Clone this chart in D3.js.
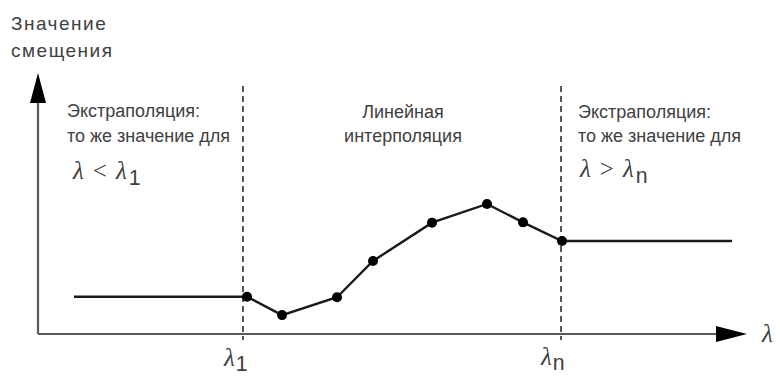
<!DOCTYPE html>
<html><head><meta charset="utf-8">
<script src="https://cdn.jsdelivr.net/npm/d3@7"></script>
<style>body{margin:0;background:#fff}svg{display:block}</style>
</head><body>
<script>
// Data (arbitrary units): interpolation nodes lambda_1 ... lambda_n
const nodeX = [209, 244, 299, 335, 394, 449, 485, 524];
const nodeY = [14.4, 7.3, 14.2, 28.2, 43.0, 50.2, 43.1, 35.9];
const extrapLeftX = 36;    // start of left constant extrapolation
const extrapRightX = 694;  // end of right constant extrapolation
const dashX = [205, 523];  // lambda_1 and lambda_n positions
const yAxisTitle = ["Значение", "смещения"];
const leftText = ["Экстраполяция:", "то же значение для"];
const midText = ["Линейная", "интерполяция"];
const rightText = ["Экстраполяция:", "то же значение для"];

const W = 780, H = 379;
const x = d3.scaleLinear().domain([0, 700]).range([38, 738]);
const y = d3.scaleLinear().domain([0, 100]).range([334, 75]);

const svg = d3.select("body").append("svg").attr("width", W).attr("height", H);

const axisColor = "#5a5a5a";
// axes
svg.append("line").attr("x1", x(0)).attr("x2", x(680)).attr("y1", y(0)).attr("y2", y(0))
  .attr("stroke", axisColor).attr("stroke-width", 2.2);
svg.append("line").attr("x1", x(0)).attr("x2", x(0)).attr("y1", y(0)).attr("y2", y(90))
  .attr("stroke", axisColor).attr("stroke-width", 2.2);
// arrowheads
svg.append("path").attr("d", `M${x(0)-8},${y(0)-231} L${x(0)},${y(0)-261} L${x(0)+8},${y(0)-231} Z`).attr("fill", "#000");
svg.append("path").attr("d", `M${x(678)},${y(0)-8} L${x(709)},${y(0)} L${x(678)},${y(0)+8} Z`).attr("fill", "#000");

// dashed verticals
svg.selectAll("line.dash").data(dashX).join("line").attr("class", "dash")
  .attr("x1", d => x(d)).attr("x2", d => x(d)).attr("y1", 86).attr("y2", 340)
  .attr("stroke", "#111").attr("stroke-width", 1.4).attr("stroke-dasharray", "6,4");

// data line
const pts = nodeX.map((v, i) => [v, nodeY[i]]);
const full = [[extrapLeftX, nodeY[0]], ...pts, [extrapRightX, nodeY[nodeY.length - 1]]];
svg.append("path").datum(full)
  .attr("d", d3.line().x(d => x(d[0])).y(d => y(d[1])))
  .attr("fill", "none").attr("stroke", "#1a1a1a").attr("stroke-width", 2.4);
svg.selectAll("circle").data(pts).join("circle")
  .attr("cx", d => x(d[0])).attr("cy", d => y(d[1])).attr("r", 5).attr("fill", "#000");

const sans = "'Liberation Sans', Arial, sans-serif";
const serif = "'Liberation Serif', 'Times New Roman', serif";
const tc = "#404040";

function lines(arr, xx, y0, dy, size, anchor, ls) {
  arr.forEach((t, i) => svg.append("text").attr("x", xx).attr("y", y0 + i * dy)
    .attr("font-family", sans).attr("font-size", size).attr("fill", tc)
    .attr("letter-spacing", ls || 0)
    .attr("text-anchor", anchor || "start").text(t));
}
lines(yAxisTitle, 11, 30, 27, 19, "start", 1.5);
lines(leftText, 67, 117, 25, 18);
lines(midText, 403, 118, 24, 18, "middle");
lines(rightText, 578, 118, 24, 18);

function lam(xx, yy, size, parts) {
  const t = svg.append("text").attr("x", xx).attr("y", yy).attr("font-family", serif)
    .attr("font-size", size).attr("fill", tc);
  parts.forEach(p => {
    const s = t.append("tspan").text(p.t);
    if (p.it) s.attr("font-style", "italic");
    if (p.dx) s.attr("dx", p.dx);
    if (p.sub) s.attr("font-size", size * 0.85).attr("dy", p.sub).attr("font-family", sans);
  });
}
lam(73, 179, 25, [{t: "λ", it: 1}, {t: "<", dx: 9}, {t: "λ", it: 1, dx: 9}, {t: "1", sub: 6, dx: 2}]);
lam(580, 177, 25, [{t: "λ", it: 1}, {t: ">", dx: 9}, {t: "λ", it: 1, dx: 9}, {t: "n", sub: 6, dx: 2}]);
lam(224, 366, 25, [{t: "λ", it: 1}, {t: "1", sub: 5, dx: 1}]);
lam(541, 365, 25, [{t: "λ", it: 1}, {t: "n", sub: 5, dx: 1}]);
lam(762, 342, 25, [{t: "λ", it: 1}]);
</script>
</body></html>
